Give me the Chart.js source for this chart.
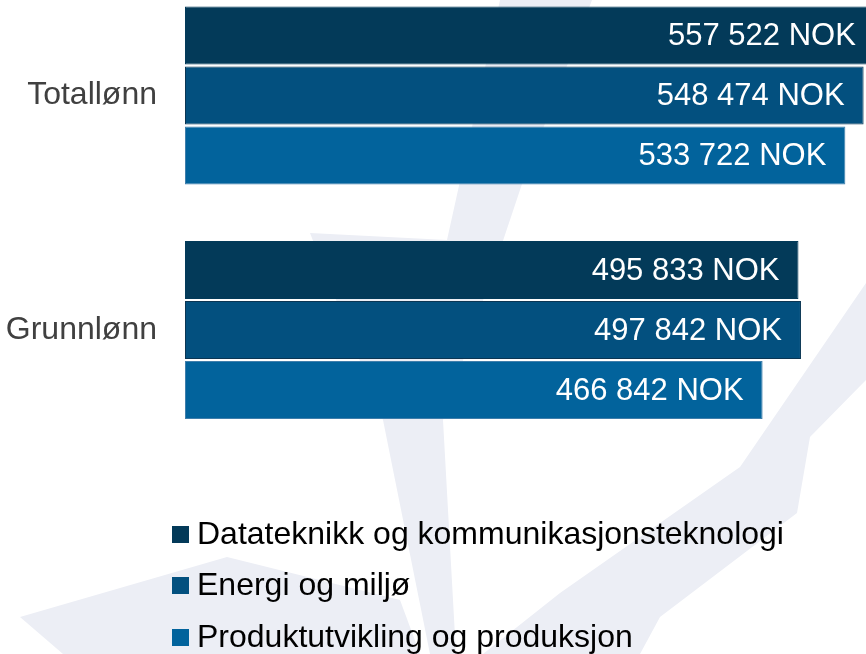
<!DOCTYPE html>
<html>
<head>
<meta charset="utf-8">
<script src="https://cdn.jsdelivr.net/npm/chart.js@4.4.1/dist/chart.umd.min.js"></script>
<style>
    html, body { margin: 0; padding: 0; background: #ffffff; }
    .chart-container { position: relative; width: 866px; height: 654px; }
</style>
</head>
<body>
<div class="chart-container">
    <canvas id="chart"></canvas>
</div>
<script>
const categories = ['Totallønn', 'Grunnlønn'];
const seriesNames = ['Datateknikk og kommunikasjonsteknologi', 'Energi og miljø', 'Produktutvikling og produksjon'];
const datateknikkValues = [557522, 495833];
const energiValues = [548474, 497842];
const produktValues = [533722, 466842];
const seriesColors = ['#033a59', '#03507f', '#02639c'];
const borderColors = ['#033a59', '#0b3654', '#3f7eab'];

const FONT = 'Arial, "Liberation Sans", sans-serif';

function formatNok(value) {
    return String(value).replace(/\B(?=(\d{3})+(?!\d))/g, ' ') + ' NOK';
}

// faint logo shape behind the chart
const watermark = {
    id: 'watermark',
    beforeDraw(chart) {
        const ctx = chart.ctx;
        const shapes = [
            [[500, 0], [592, 0], [522, 184], [443, 420], [456, 654], [430, 654], [383, 420], [310, 233], [447, 240]],
            [[483, 654], [560, 593], [740, 467], [866, 283], [866, 380], [810, 437], [797, 513], [660, 617], [640, 654]],
            [[20, 617], [227, 557], [400, 600], [420, 654], [63, 654]]
        ];
        ctx.save();
        ctx.fillStyle = '#eceef5';
        shapes.forEach((pts) => {
            ctx.beginPath();
            pts.forEach(([x, y], i) => (i ? ctx.lineTo(x, y) : ctx.moveTo(x, y)));
            ctx.closePath();
            ctx.fill();
        });
        ctx.restore();
    }
};

const valueLabels = {
    id: 'valueLabels',
    afterDatasetsDraw(chart) {
        const ctx = chart.ctx;
        ctx.save();
        ctx.font = '31px ' + FONT;
        ctx.fillStyle = '#ffffff';
        ctx.textAlign = 'right';
        ctx.textBaseline = 'middle';
        chart.data.datasets.forEach((ds, i) => {
            chart.getDatasetMeta(i).data.forEach((bar, j) => {
                ctx.fillText(formatNok(ds.data[j]), bar.x - 19, bar.y + 1);
            });
        });
        ctx.restore();
    }
};

const stackedLegend = {
    id: 'stackedLegend',
    afterDraw(chart) {
        const ctx = chart.ctx;
        const rows = [534, 585, 637];
        ctx.save();
        ctx.font = '32px ' + FONT;
        ctx.textAlign = 'left';
        ctx.textBaseline = 'middle';
        chart.data.datasets.forEach((ds, i) => {
            ctx.fillStyle = ds.backgroundColor;
            ctx.fillRect(172, rows[i] - 8, 17, 17);
            ctx.fillStyle = '#000000';
            ctx.fillText(ds.label, 197, rows[i] + 1);
        });
        ctx.restore();
    }
};

new Chart(document.getElementById('chart'), {
    type: 'bar',
    data: {
        labels: categories,
        datasets: [datateknikkValues, energiValues, produktValues].map((values, i) => ({
            label: seriesNames[i],
            data: values,
            backgroundColor: seriesColors[i],
            borderColor: borderColors[i],
            borderWidth: 1,
            borderSkipped: false,
            categoryPercentage: 0.768,
            barPercentage: 0.965,
            clip: false
        }))
    },
    options: {
        indexAxis: 'y',
        responsive: true,
        maintainAspectRatio: false,
        animation: false,
        layout: { padding: { top: 95.5, bottom: 324, left: 0, right: 0 } },
        plugins: {
            legend: { display: false },
            tooltip: { enabled: false }
        },
        scales: {
            x: {
                display: false,
                min: 0,
                max: 550400
            },
            y: {
                offset: false,
                grid: { display: false, drawTicks: false },
                border: { display: false },
                ticks: {
                    color: '#404040',
                    padding: 28,
                    font: { family: FONT, size: 32 }
                },
                afterFit(scale) {
                    scale.width = 185;
                }
            }
        }
    },
    plugins: [watermark, valueLabels, stackedLegend]
});
</script>
</body>
</html>
